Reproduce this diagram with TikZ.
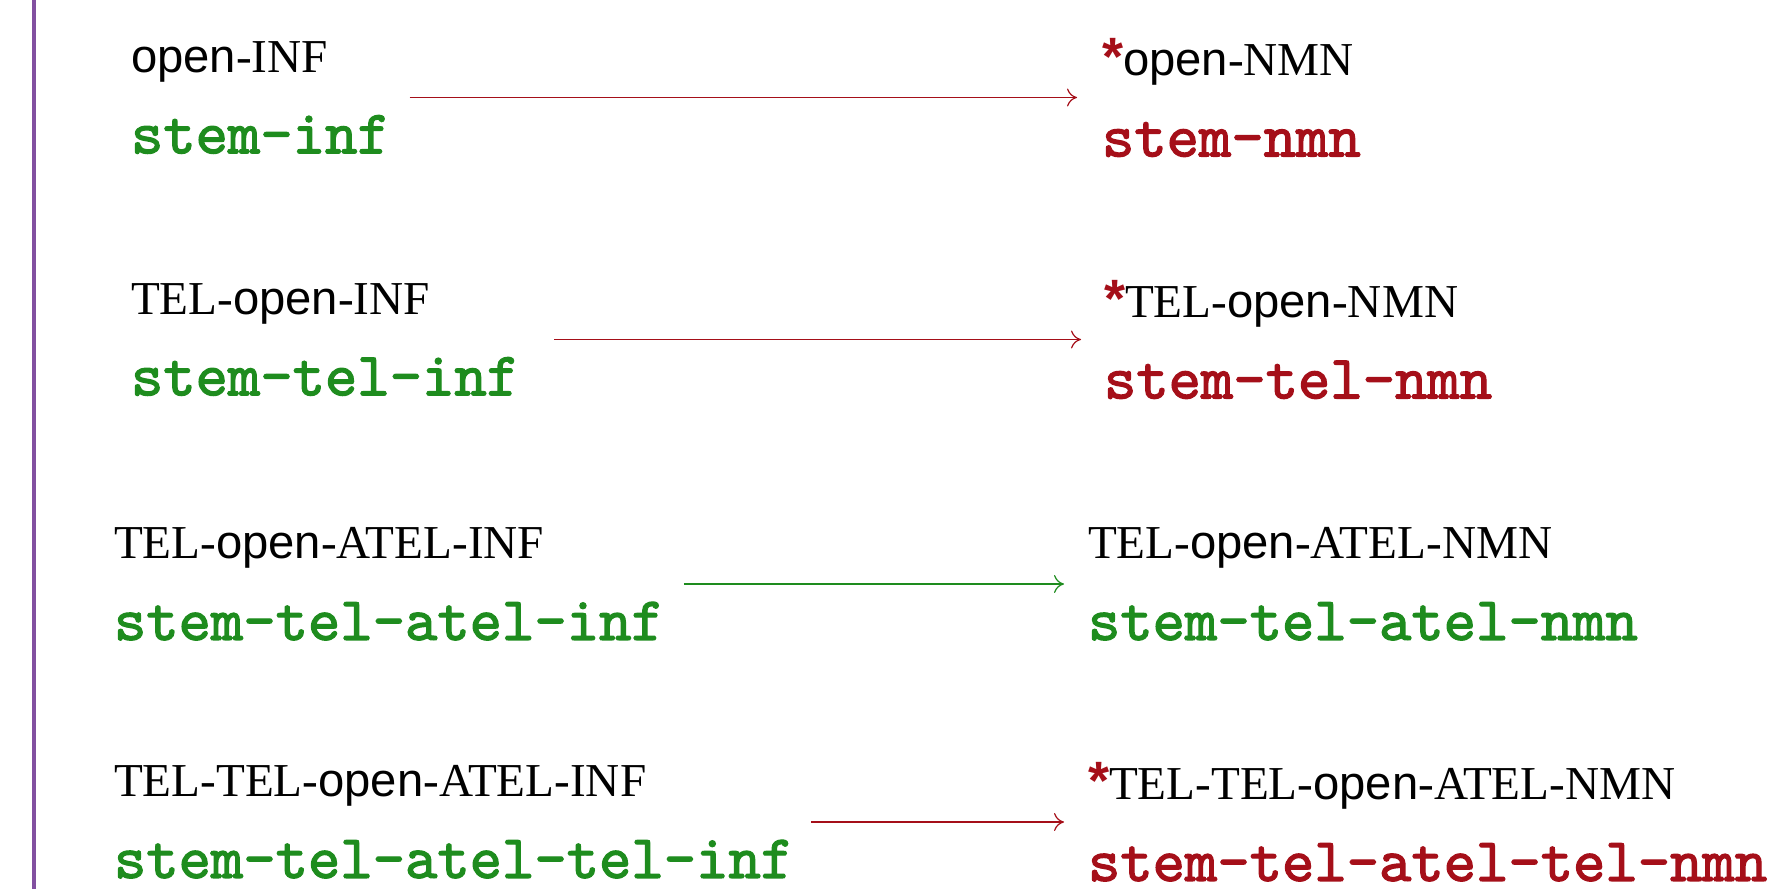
\documentclass[tikz,border=0pt]{standalone}
\usepackage{fontspec}
\usetikzlibrary{arrows.meta}
\setmainfont{Liberation Serif}
\newfontfamily\opensans{Liberation Sans}
\newfontfamily\formfont{lmmono10-regular.otf}[FakeBold=2]
\definecolor{okgreen}{RGB}{30,140,30}
\definecolor{badred}{RGB}{165,15,25}
\definecolor{rulepurple}{RGB}{130,80,160}
\newcommand{\gl}[1]{{\opensans #1}}
\newcommand{\frm}[2]{{\fontsize{30.8}{30.8}\selectfont\formfont\color{#1}#2}}
\newcommand{\bad}{{\fontsize{27}{27}\selectfont\opensans\bfseries\color{badred}*}}

\begin{document}
\begin{tikzpicture}[x=0.5pt,y=-0.5pt,
    cell/.style={anchor=west,align=left,inner sep=0pt,outer sep=0pt,
                 font=\fontsize{23.6}{40.5}\selectfont},
    derive/.style={-{To[length=5pt,width=9pt]},line width=0.6pt}]
  \useasboundingbox (0,0) rectangle (1781,889);
  \draw[rulepurple,line width=1.7pt] (34,0) -- (34,889);
  % left column: infinitives
  \node[cell] (inf1) at (131,97.5) {\gl{open}-INF\\ \frm{okgreen}{stem-inf}};
  \node[cell] (inf2) at (131,339.5) {TEL-\gl{open}-INF\\ \frm{okgreen}{stem-tel-inf}};
  \node[cell] (inf3) at (114,584) {TEL-\gl{open}-ATEL-INF\\ \frm{okgreen}{stem-tel-atel-inf}};
  \node[cell] (inf4) at (114,822) {TEL-TEL-\gl{open}-ATEL-INF\\ \frm{okgreen}{stem-tel-atel-tel-inf}};
  % right column: nominalizations
  \node[cell] (nmn1) at (1102,97.5) {\bad\gl{open}-NMN\\ \frm{badred}{stem-nmn}};
  \node[cell] (nmn2) at (1104,339.5) {\bad TEL-\gl{open}-NMN\\ \frm{badred}{stem-tel-nmn}};
  \node[cell] (nmn3) at (1088,584) {TEL-\gl{open}-ATEL-NMN\\ \frm{okgreen}{stem-tel-atel-nmn}};
  \node[cell] (nmn4) at (1088,822) {\bad TEL-TEL-\gl{open}-ATEL-NMN\\ \frm{badred}{stem-tel-atel-tel-nmn}};
  % arrows
  \draw[derive,badred,shorten <=10pt,shorten >=12.5pt] (inf1) -- (nmn1);
  \draw[derive,badred,shorten <=17.5pt,shorten >=11.5pt] (inf2) -- (nmn2);
  \draw[derive,okgreen,shorten <=10pt,shorten >=12pt] (inf3) -- (nmn3);
  \draw[derive,badred,shorten <=9pt,shorten >=12pt] (inf4) -- (nmn4);
\end{tikzpicture}
\end{document}
